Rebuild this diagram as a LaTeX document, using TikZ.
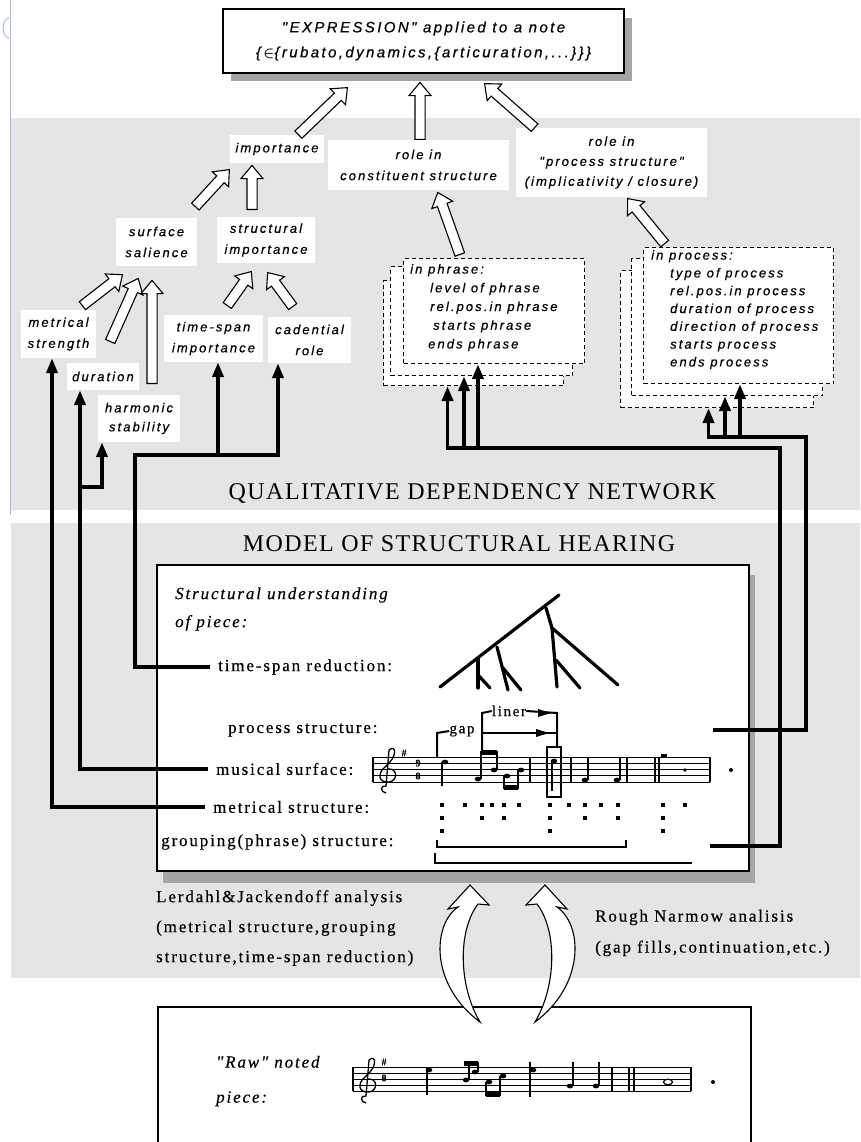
\documentclass[tikz,border=0pt]{standalone}
\usepackage{fontspec}
\setmainfont{Liberation Serif}
\newfontfamily\qsf[LetterSpace=16,FakeBold=0.5]{Liberation Sans}
\newfontfamily\qrm[LetterSpace=11,FakeBold=0.4]{Liberation Serif}
\newfontfamily\qtt[LetterSpace=6]{Liberation Serif}
\usetikzlibrary{arrows.meta,calc,shapes.arrows}
\definecolor{band}{RGB}{229,229,229}
\definecolor{shad}{RGB}{165,165,165}
\definecolor{guide}{RGB}{165,185,240}
\tikzset{
  qlab/.style={fill=white, inner sep=0pt, align=center, font=\qsf\itshape\fontsize{13}{21}\selectfont},
  dnote/.style={inner sep=0pt, anchor=north west, align=left},
  sheet/.style={draw, dash pattern=on 4pt off 3pt, fill=white, line width=1.1pt, inner sep=0pt, anchor=north west},
  hollowarr/.style={single arrow, draw, fill=white, line width=1.1pt, inner xsep=0pt, inner ysep=4.5pt, single arrow head extend=6pt, single arrow tip angle=80, anchor=tail},
  conn/.style={line width=3.8pt, line join=miter, -{Triangle[length=15pt,width=11pt]}},
  slab/.style={font=\qrm\fontsize{17}{20}\selectfont, inner xsep=8pt, inner ysep=1pt, anchor=west},
  title/.style={font=\qtt\fontsize{24}{24}\selectfont, inner sep=0pt},
  tree/.style={line width=3.2pt, line cap=round},
  staff/.style={line width=0.9pt},
  small/.style={font=\qrm\fontsize{15}{15}\selectfont, inner sep=0pt},
  hollowcurve/.style={draw, fill=white, line width=1.1pt, line join=miter}
}
\newcommand\hollow[3]{%
  \path let \p1=#2, \p2=#3, \n1={atan2(\y2-\y1,\x2-\x1)}, \n2={veclen(\x2-\x1,\y2-\y1)} in
    node[hollowarr, rotate=\n1, minimum height=\n2] (#1) at #2 {};}
\newcommand\nt[2]{\fill (#1,#2) ellipse [x radius=3.3, y radius=2.4];}
\newcommand\mclef{%
  \draw[line width=1.3pt] (386,793) .. controls (380,792) and (380,785) .. (386,786) -- (389,750)
     .. controls (396,744) and (398,756) .. (386,766) .. controls (376,774) and (379,783) .. (389,782)
     .. controls (398,781) and (398,768) .. (388,769);}
\begin{document}
\begin{tikzpicture}[x=1pt,y=-1pt]
\useasboundingbox (0,0) rectangle (860,1142);
\fill[white] (0,0) rectangle (860,1142);
% bands
\fill[band] (11,118) rectangle (860,510);
\fill[band] (11,523) rectangle (860,978);
\draw[guide, line width=1pt] (10,0) -- (10,515);
\draw[guide, line width=1pt] (9,18) .. controls (1,20) and (1,36) .. (9,38);

% expression box
\fill[shad] (231,18) rectangle (632,81);
\node[draw, line width=1.6pt, fill=white, minimum width=401, minimum height=64, inner sep=0pt, align=center,
      font=\qsf\itshape\fontsize{15}{25}\selectfont] (expr) at (423.5,41)
  {"EXPRESSION" applied to a note\\\{\,{\boldmath$\in$}\{rubato,dynamics,\{articuration,...\}\}\}};

% dependency boxes
\node[qlab, minimum width=94, minimum height=28] (imp) at (277,149) {importance};
\node[qlab, minimum width=181, minimum height=50] (rcs) at (418.5,165) {role in\\constituent structure};
\node[qlab, minimum width=191, minimum height=69, font=\qsf\itshape\fontsize{13}{20}\selectfont] (rps) at (611.5,162.5) {role in\\"process structure"\\(implicativity / closure)};
\node[qlab, minimum width=81, minimum height=48] (ss) at (156.5,242) {surface\\salience};
\node[qlab, minimum width=98, minimum height=46] (si) at (266,240) {structural\\importance};
\node[qlab, minimum width=75, minimum height=48] (ms) at (58.5,334) {metrical\\strength};
\node[qlab, minimum width=72, minimum height=27] (dur) at (103,376.5) {duration};
\node[qlab, minimum width=82, minimum height=47, font=\qsf\itshape\fontsize{13}{19}\selectfont] (hs) at (139,418.5) {harmonic\\stability};
\node[qlab, minimum width=99, minimum height=47] (tsi) at (213.5,338.5) {time-span\\importance};
\node[qlab, minimum width=83, minimum height=46] (cad) at (309.5,340) {cadential\\role};

% stacked sheets: phrase
\node[sheet, minimum width=180, minimum height=105] (ph3) at (383,280) {};
\node[sheet, minimum width=182, minimum height=109] (ph2) at (390,266) {};
\node[sheet, minimum width=181, minimum height=105] (ph1) at (403,258) {};
\node[dnote, font=\qsf\itshape\fontsize{13}{18.7}\selectfont] (phtxt) at (410,264)
  {in phrase:\\\hspace*{20pt}level of phrase\\\hspace*{20pt}rel.pos.in phrase\\\hspace*{23pt}starts phrase\\\hspace*{18pt}ends phrase};
% stacked sheets: process
\node[sheet, minimum width=193, minimum height=137] (pr3) at (620,270) {};
\node[sheet, minimum width=191, minimum height=137] (pr2) at (631,258) {};
\node[sheet, minimum width=190, minimum height=136] (pr1) at (643,247) {};
\node[dnote, font=\qsf\itshape\fontsize{13}{17.8}\selectfont] (prtxt) at (651,250)
  {in process:\\\hspace*{19pt}type of process\\\hspace*{19pt}rel.pos.in process\\\hspace*{19pt}duration of process\\\hspace*{19pt}direction of process\\\hspace*{19pt}starts process\\\hspace*{19pt}ends process};

% hollow arrows
\hollow{ah1}{(298,135)}{(347,88)}
\hollow{ah2}{(420,140)}{(420,83)}
\hollow{ah3}{(535,128)}{(485,84)}
\hollow{ah4}{(195,207)}{(229,170)}
\hollow{ah5}{(252,210)}{(252,166)}
\hollow{ah6}{(82,306)}{(122,275)}
\hollow{ah7}{(110,342)}{(138,279)}
\hollow{ah8}{(152,384)}{(152,281)}
\hollow{ah9}{(227,306)}{(251,272)}
\hollow{ah10}{(293,307)}{(268,273)}
\hollow{ah11}{(460,255)}{(438,193)}
\hollow{ah12}{(665,244)}{(628,199)}

% titles
\node[title] (qdn) at (472.5,493) {QUALITATIVE DEPENDENCY NETWORK};
\node[title] (msh) at (459,544) {MODEL OF STRUCTURAL HEARING};

% model box
\fill[shad] (163,575) rectangle (755,883);
\node[draw, line width=1.5pt, fill=white, minimum width=592, minimum height=306, inner sep=0pt] (mbox) at (453,718) {};
\node[slab, font=\qrm\itshape\fontsize{17}{28}\selectfont, align=left] (lsu) at (167,609) {Structural understanding\\of piece:};
\node[slab] (ltsr) at (210,667) {time-span reduction:};
\node[slab] (lps) at (220,730) {process structure:};
\node[slab] (lmu) at (208,769) {musical surface:};
\node[slab] (lme) at (205,807) {metrical structure:};
\node[slab] (lgr) at (153,842) {grouping(phrase) structure:};

% tree
\draw[tree] (440,687) -- (559,595);
\draw[tree] (478,658) -- (478,688); \draw[tree] (478,675) -- (490,688);
\draw[tree] (497,647) -- (508,690); \draw[tree] (503,668) -- (521,690);
\draw[tree] (546,608) -- (552,628) -- (618,685); \draw[tree] (552,628) -- (557,687); \draw[tree] (556,660) -- (580,688);

% musical surface staff
\foreach \k in {0,...,4} \draw[staff] (373,{757+6.25*\k}) -- (710,{757+6.25*\k});
\foreach \bx in {373,530,571,627,655,659,710} \draw[line width=1.1pt] (\bx,757) -- (\bx,782);
\mclef
\node[small, font=\qrm\fontsize{10}{10}\selectfont] (ks) at (404,753) {\#};
\node[small, font=\qrm\bfseries\fontsize{10}{10}\selectfont] (ts1) at (418,763) {9};
\node[small, font=\qrm\bfseries\fontsize{10}{10}\selectfont] (ts2) at (418,776) {8};
\begin{scope}[line width=1.2pt]
\nt{445}{762} \draw (442,762) -- (442,786);
\nt{478}{779} \draw (481,779) -- (481,751);
\fill (481,750) rectangle (497,755);
\nt{494}{770} \draw (497,770) -- (497,751);
\nt{507}{776} \draw (504,776) -- (504,789);
\nt{521}{770} \draw (518,770) -- (518,789);
\fill (504,785) rectangle (518,790);
\nt{554}{761} \draw (552,761) -- (552,791);
\draw (547,747) rectangle (561,797);
\nt{585}{780} \draw (588,780) -- (588,757);
\nt{617}{780} \draw (620,780) -- (620,757);
\fill (661,754) rectangle (667,758);
\fill (685,770) circle (1.8);
\fill (731,770) circle (2);
\end{scope}

% gap / liner
\node[small] (gapl) at (462,731) {gap};
\node[small] (linl) at (509,711) {liner};
\draw[line width=2pt] (437,757) -- (437,733) -- (gapl.west);
\draw[line width=2pt] (482,753) -- (482,713) -- (linl.west);
\draw[line width=2pt] (linl.east) -- (557,713) -- (557,747);
\draw[line width=2pt] (482,733) -- (557,733);
\fill (538,709) -- (551,713) -- (538,717) -- cycle;
\fill (536,729) -- (549,733) -- (536,737) -- cycle;

% metrical dots
\foreach \x in {442,465,482,492,504,519,550,569,585,601,618,663,685} \fill (\x,805) +(-1.7,-1.7) rectangle +(1.7,1.7);
\foreach \x in {442,482,504,550,585,618,663} \fill (\x,818) +(-1.7,-1.7) rectangle +(1.7,1.7);
\foreach \x in {442,550,663} \fill (\x,831) +(-1.7,-1.7) rectangle +(1.7,1.7);
% grouping brackets
\draw[line width=1.4pt] (437,840) -- (437,847) -- (626,847) -- (626,840);
\draw[line width=1.4pt] (435,853) -- (435,863) -- (692,863);

% connectors
\draw[conn] (lme.west) -| ([xshift=-6.5pt]ms.south);
\draw[conn] (lmu.west) -| ([xshift=-23pt]dur.south);
\coordinate (hsb) at (80,487);
\draw[conn] (hsb) -| ([xshift=-37pt]hs.south);
\draw[conn] (ltsr.west) -| (135,455) -| ([xshift=-31.5pt]cad.south);
\coordinate (tsb) at (218,455);
\draw[conn] (tsb) -- (tsb |- tsi.south);
\coordinate (psout) at (713,730);
\draw[conn] (psout) -| (806,437) -| ([xshift=-8.5pt]pr3.south);
\coordinate (pb2) at (725,437);
\draw[conn] (pb2) -- (pb2 |- pr2.south);
\coordinate (pb1) at (740,437);
\draw[conn] (pb1) -- (pb1 |- pr1.south);
\coordinate (grout) at (710,846);
\draw[conn] (grout) -| (780,448) -| ([xshift=-26pt]ph3.south);
\coordinate (pg2) at (464,448);
\draw[conn] (pg2) -- (pg2 |- ph2.south);
\coordinate (pg1) at (478,448);
\draw[conn] (pg1) -- (pg1 |- ph1.south);

% analysis texts
\node[slab, align=left, font=\qrm\fontsize{17}{30}\selectfont] (lj) at (148,928) {Lerdahl\&Jackendoff analysis\\(metrical structure,grouping\\structure,time-span reduction)};
\node[slab, align=left, font=\qrm\fontsize{17}{31}\selectfont] (rn) at (587,933) {Rough Narmow analisis\\(gap fills,continuation,etc.)};

% raw box
\draw[line width=1.6pt] (158,1150) -- (158,1007) -- (751,1007) -- (751,1150);
\node[slab, align=left, font=\qrm\itshape\fontsize{17}{35}\selectfont] (raw) at (208,1081) {"Raw" noted\\piece:};
\foreach \k in {0,...,4} \draw[staff] (353,{1067+6*\k}) -- (691,{1067+6*\k});
\foreach \bx in {353,612,629,634,691} \draw[line width=1.1pt] (\bx,1067) -- (\bx,1091);
\begin{scope}[shift={(-20,310)}] \mclef \end{scope}
\node[small, font=\qrm\fontsize{10}{10}\selectfont] (rks) at (384,1062) {\#};
\node[small, font=\qrm\bfseries\fontsize{10}{10}\selectfont] (rts) at (384,1078) {8};
\begin{scope}[line width=1.2pt]
\nt{429}{1070} \draw (427,1067) -- (427,1095);
\fill (464,1061) rectangle (478,1066);
\nt{466}{1080} \draw (469,1080) -- (469,1062);
\nt{475}{1072} \draw (478,1072) -- (478,1062);
\nt{489}{1082} \draw (486,1082) -- (486,1096);
\nt{503}{1076} \draw (500,1076) -- (500,1096);
\fill (486,1092) rectangle (500,1097);
\nt{533}{1070} \draw (530,1062) -- (530,1097);
\nt{570}{1086} \draw (573,1086) -- (573,1062);
\nt{596}{1086} \draw (599,1086) -- (599,1062);
\draw (668,1082) ellipse [x radius=4.5, y radius=2.8];
\fill (713,1082) circle (2);
\end{scope}

% curved hollow arrows
\path[hollowcurve] (480,1022) .. controls (430,985) and (432,925) .. (458,907) -- (448,909) -- (470,885) -- (489,905) -- (478,904) .. controls (458,930) and (458,985) .. (480,1022) -- cycle;
\path[hollowcurve] (535,1022) .. controls (585,985) and (583,925) .. (557,907) -- (567,909) -- (545,885) -- (526,905) -- (537,904) .. controls (557,930) and (557,985) .. (535,1022) -- cycle;
\end{tikzpicture}
\end{document}
